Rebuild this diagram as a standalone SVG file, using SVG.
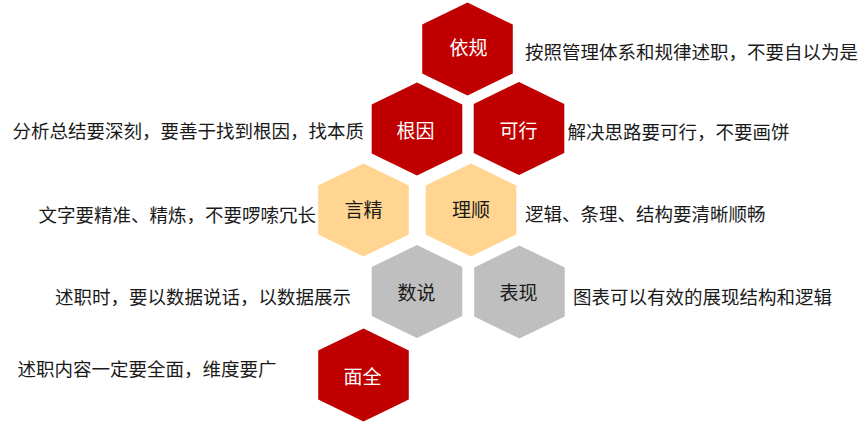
<svg xmlns="http://www.w3.org/2000/svg" width="865" height="424" viewBox="0 0 865 424">
<defs>
<style>
.hex{stroke:none}
.red{fill:#C00000}
.yel{fill:#FFD591}
.gry{fill:#BFBFBF}
.lbl{font-family:"Noto Sans CJK SC","Noto Sans",sans-serif;font-size:19px;text-anchor:middle;dominant-baseline:central}
.w{fill:#FFFFFF}
.k{fill:#1A1A1A}
.desc{font-family:"Noto Sans CJK SC","Noto Sans",sans-serif;font-size:18.5px;fill:#1A1A1A;dominant-baseline:central}
</style>
<path id="hx" d="M0,-46.5 L45.3,-24.5 L45.3,24.5 L0,46.5 L-45.3,24.5 L-45.3,-24.5 Z"/>
</defs>
<rect width="865" height="424" fill="#FFFFFF"/>
<g id="node-yigui">
<use href="#hx" class="hex red" x="467.5" y="49"/>
<text class="lbl w" x="468.5" y="46">依规</text>
<text class="desc" x="525" y="51">按照管理体系和规律述职，不要自以为是</text>
</g>
<g id="node-genyin">
<use href="#hx" class="hex red" x="417" y="129"/>
<text class="lbl w" x="415.5" y="129">根因</text>
<text class="desc" x="364" y="130" text-anchor="end">分析总结要深刻，要善于找到根因，找本质</text>
</g>
<g id="node-kexing">
<use href="#hx" class="hex red" x="519" y="128.5"/>
<text class="lbl w" x="518.5" y="129">可行</text>
<text class="desc" x="567.5" y="131">解决思路要可行，不要画饼</text>
</g>
<g id="node-yanjing">
<use href="#hx" class="hex yel" x="363.5" y="210"/>
<text class="lbl k" x="363.5" y="208">言精</text>
<text class="desc" x="316" y="213.5" text-anchor="end">文字要精准、精炼，不要啰嗦冗长</text>
</g>
<g id="node-lishun">
<use href="#hx" class="hex yel" x="471" y="210"/>
<text class="lbl k" x="471" y="208">理顺</text>
<text class="desc" x="525" y="212.5">逻辑、条理、结构要清晰顺畅</text>
</g>
<g id="node-shushuo">
<use href="#hx" class="hex gry" x="417" y="291.5"/>
<text class="lbl k" x="416.5" y="291.5">数说</text>
<text class="desc" x="351" y="295.5" text-anchor="end">述职时，要以数据说话，以数据展示</text>
</g>
<g id="node-biaoxian">
<use href="#hx" class="hex gry" x="519.5" y="292"/>
<text class="lbl k" x="518.5" y="291.5">表现</text>
<text class="desc" x="573" y="295.5">图表可以有效的展现结构和逻辑</text>
</g>
<g id="node-mianquan">
<use href="#hx" class="hex red" x="363.5" y="375"/>
<text class="lbl w" x="362.5" y="375">面全</text>
<text class="desc" x="17.5" y="368">述职内容一定要全面，维度要广</text>
</g>
</svg>
